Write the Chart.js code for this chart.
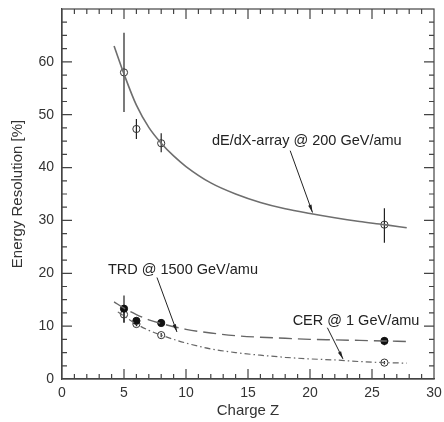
<!DOCTYPE html>
<html>
<head>
<meta charset="utf-8">
<script src="https://cdn.jsdelivr.net/npm/chart.js@4/dist/chart.umd.min.js"></script>
<style>
  html, body { margin: 0; padding: 0; background: #fff; }
</style>
</head>
<body>
<canvas id="grafico-resolucao" width="444" height="422"></canvas>
<script>
// measured points (Z, resolution, error bar low/high)
const dedxZ = [5, 6, 8, 26];
const dedxRes = [58.0, 47.3, 44.6, 29.2];
const dedxLo = [50.5, 45.4, 42.9, 25.8];
const dedxHi = [65.5, 49.2, 46.5, 32.3];

const trdZ = [5, 6, 8, 26];
const trdRes = [13.3, 11.0, 10.6, 7.2];
const trdLo = [10.8, 10.4, 10.0, 6.4];
const trdHi = [15.8, 11.6, 11.2, 7.9];

const cerZ = [5, 6, 8, 26];
const cerRes = [12.2, 10.4, 8.3, 3.1];
const cerLo = [10.6, 10.0, 7.9, 2.8];
const cerHi = [14.0, 10.8, 8.7, 3.4];

// fitted curves
const dedxCurveZ = [4.2, 5, 6, 7, 8, 9, 10, 12, 14, 16, 18, 20, 22, 24, 26, 27.8];
const dedxCurveRes = [63.0, 57.7, 51.8, 47.6, 44.6, 42.2, 40.2, 37.1, 35.0, 33.4, 32.2, 31.3, 30.5, 29.8, 29.2, 28.6];

const trdCurveZ = [4.2, 5, 6, 7, 8, 10, 12, 14, 16, 18, 20, 22, 24, 26, 27.8];
const trdCurveRes = [14.6, 13.4, 12.2, 11.2, 10.5, 9.4, 8.7, 8.2, 7.9, 7.7, 7.5, 7.4, 7.3, 7.2, 7.1];

const cerCurveZ = [4.5, 5, 6, 7, 8, 9, 10, 12, 14, 16, 18, 20, 22, 24, 26, 27.8];
const cerCurveRes = [12.7, 11.9, 10.4, 9.2, 8.3, 7.5, 6.8, 5.7, 5.0, 4.5, 4.1, 3.8, 3.6, 3.3, 3.1, 3.0];

const xTicksMajor = [0, 5, 10, 15, 20, 25, 30];
const yTicksMajor = [0, 10, 20, 30, 40, 50, 60];

// annotations: text anchor and arrow in data units
const rotulos = [
  { texto: 'dE/dX-array @ 200 GeV/amu', z: 12.1, v: 45.1, de: [18.4, 43.2], ate: [20.2, 31.5] },
  { texto: 'TRD @ 1500 GeV/amu', z: 3.7, v: 20.6, de: [7.66, 19.2], ate: [9.27, 8.9] },
  { texto: 'CER @ 1 GeV/amu', z: 18.6, v: 10.9, de: [21.4, 9.7], ate: [22.66, 3.8] }
];

const fonte = '"Liberation Sans", Arial, Helvetica, sans-serif';
const corEixo = '#444';

function pares(xs, ys) {
  return xs.map(function (x, i) { return { x: x, y: ys[i] }; });
}

const errosPorDataset = {
  3: { lo: dedxLo, hi: dedxHi },
  4: { lo: trdLo, hi: trdHi },
  5: { lo: cerLo, hi: cerHi }
};

const pluginErros = {
  id: 'barrasErro',
  beforeDatasetsDraw(chart) {
    const ctx = chart.ctx;
    const ys = chart.scales.y;
    ctx.save();
    ctx.strokeStyle = '#222';
    ctx.lineWidth = 1.2;
    Object.keys(errosPorDataset).forEach(function (idx) {
      const meta = chart.getDatasetMeta(+idx);
      const e = errosPorDataset[idx];
      meta.data.forEach(function (pt, i) {
        ctx.beginPath();
        ctx.moveTo(pt.x, ys.getPixelForValue(e.lo[i]));
        ctx.lineTo(pt.x, ys.getPixelForValue(e.hi[i]));
        ctx.stroke();
      });
    });
    ctx.restore();
  }
};

const pluginMoldura = {
  id: 'moldura',
  afterDraw(chart) {
    const ctx = chart.ctx;
    const a = chart.chartArea;
    const xs = chart.scales.x;
    const ys = chart.scales.y;
    ctx.save();
    ctx.strokeStyle = corEixo;
    ctx.lineWidth = 1.2;
    ctx.strokeRect(a.left, a.top, a.right - a.left, a.bottom - a.top);
    ctx.beginPath();
    for (let z = 1; z < 30; z++) {
      const px = xs.getPixelForValue(z);
      const len = xTicksMajor.includes(z) ? 10 : 5;
      ctx.moveTo(px, a.bottom); ctx.lineTo(px, a.bottom - len);
      ctx.moveTo(px, a.top); ctx.lineTo(px, a.top + len);
    }
    for (let v = 2.5; v < 70; v += 2.5) {
      const py = ys.getPixelForValue(v);
      const len = yTicksMajor.includes(v) ? 10 : 5;
      ctx.moveTo(a.left, py); ctx.lineTo(a.left + len, py);
      ctx.moveTo(a.right, py); ctx.lineTo(a.right - len, py);
    }
    ctx.stroke();

    // annotation texts and arrows
    ctx.fillStyle = '#222';
    ctx.strokeStyle = '#222';
    ctx.lineWidth = 1;
    ctx.font = '14.5px ' + fonte;
    ctx.textBaseline = 'middle';
    ctx.textAlign = 'left';
    rotulos.forEach(function (r) {
      ctx.fillText(r.texto, xs.getPixelForValue(r.z), ys.getPixelForValue(r.v));
      const x0 = xs.getPixelForValue(r.de[0]), y0 = ys.getPixelForValue(r.de[1]);
      const x1 = xs.getPixelForValue(r.ate[0]), y1 = ys.getPixelForValue(r.ate[1]);
      const ang = Math.atan2(y1 - y0, x1 - x0);
      ctx.beginPath();
      ctx.moveTo(x0, y0); ctx.lineTo(x1, y1);
      ctx.stroke();
      ctx.beginPath();
      ctx.moveTo(x1, y1);
      ctx.lineTo(x1 - 8 * Math.cos(ang - 0.22), y1 - 8 * Math.sin(ang - 0.22));
      ctx.lineTo(x1 - 8 * Math.cos(ang + 0.22), y1 - 8 * Math.sin(ang + 0.22));
      ctx.closePath();
      ctx.fill();
    });
    ctx.restore();
  }
};

const ctxGrafico = document.getElementById('grafico-resolucao');
new Chart(ctxGrafico, {
  type: 'scatter',
  data: {
    datasets: [
      {
        label: 'dE/dX fit',
        data: pares(dedxCurveZ, dedxCurveRes),
        showLine: true, pointRadius: 0, borderColor: '#6e6e6e', borderWidth: 1.6,
        cubicInterpolationMode: 'monotone'
      },
      {
        label: 'TRD fit',
        data: pares(trdCurveZ, trdCurveRes),
        showLine: true, pointRadius: 0, borderColor: '#666', borderWidth: 1.4,
        borderDash: [13, 6], cubicInterpolationMode: 'monotone'
      },
      {
        label: 'CER fit',
        data: pares(cerCurveZ, cerCurveRes),
        showLine: true, pointRadius: 0, borderColor: '#666', borderWidth: 1.2,
        borderDash: [6, 3, 1.5, 3], cubicInterpolationMode: 'monotone'
      },
      {
        label: 'dE/dX',
        data: pares(dedxZ, dedxRes),
        pointRadius: 3.6, pointBorderWidth: 1, borderColor: '#333', backgroundColor: 'rgba(255,255,255,0)'
      },
      {
        label: 'TRD',
        data: pares(trdZ, trdRes),
        pointRadius: 3.6, pointBorderWidth: 1, borderColor: '#111', backgroundColor: '#111'
      },
      {
        label: 'CER',
        data: pares(cerZ, cerRes),
        pointRadius: 3.6, pointBorderWidth: 1, borderColor: '#333', backgroundColor: 'rgba(255,255,255,0)'
      }
    ]
  },
  options: {
    responsive: false,
    animation: false,
    layout: { padding: { top: 9, right: 10, left: 0, bottom: 0 } },
    plugins: {
      legend: { display: false },
      tooltip: { enabled: false }
    },
    scales: {
      x: {
        type: 'linear', min: 0, max: 30,
        grid: { display: false, drawTicks: false },
        border: { color: corEixo, width: 1.2 },
        ticks: {
          stepSize: 1, autoSkip: false, maxRotation: 0, padding: 6,
          color: '#333', font: { family: fonte, size: 14 },
          callback: function (v) { return xTicksMajor.includes(v) ? v : ''; }
        },
        title: {
          display: true, text: 'Charge Z', color: '#333',
          font: { family: fonte, size: 15 }, padding: { top: 0, bottom: 2 }
        },
        afterFit: function (s) { s.height = 43; s.paddingLeft = 0; s.paddingRight = 0; }
      },
      y: {
        type: 'linear', min: 0, max: 70,
        grid: { display: false, drawTicks: false },
        border: { color: corEixo, width: 1.2 },
        ticks: {
          stepSize: 2.5, autoSkip: false, padding: 8,
          color: '#333', font: { family: fonte, size: 14 },
          callback: function (v) { return yTicksMajor.includes(v) ? v : ''; }
        },
        title: {
          display: true, text: 'Energy Resolution [%]', color: '#333',
          font: { family: fonte, size: 15 }, padding: { top: 9, bottom: 0 }
        },
        afterFit: function (s) { s.width = 62; s.paddingTop = 0; s.paddingBottom = 0; }
      }
    }
  },
  plugins: [pluginErros, pluginMoldura]
});
</script>
</body>
</html>
